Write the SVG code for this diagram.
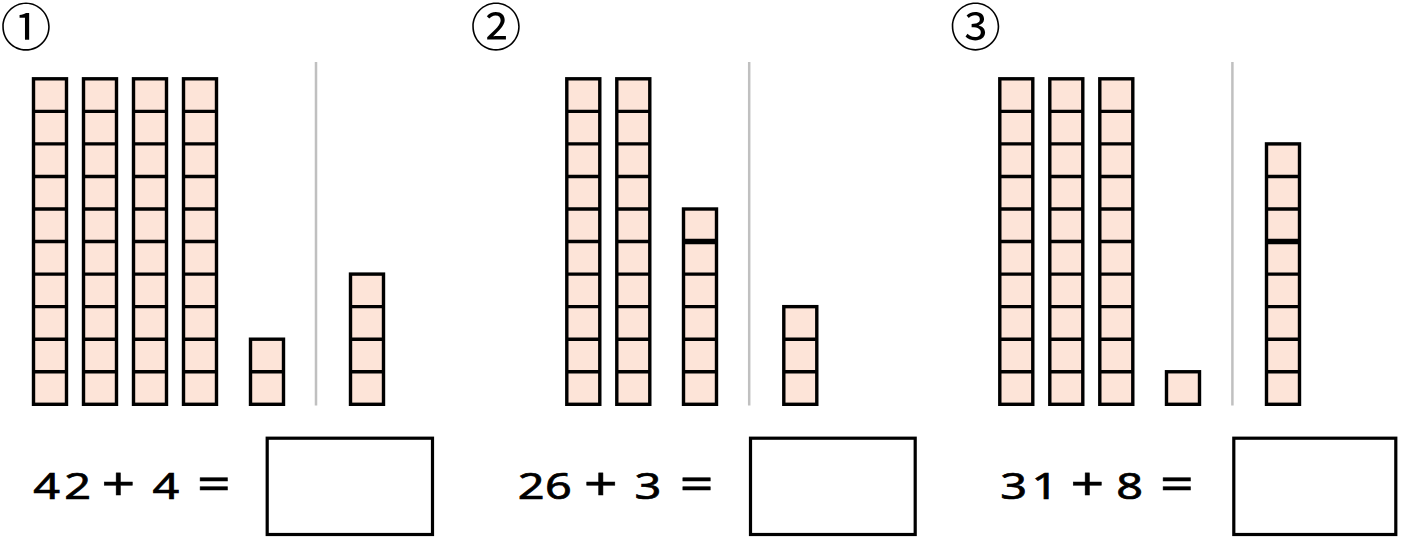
<svg xmlns="http://www.w3.org/2000/svg" xmlns:xlink="http://www.w3.org/1999/xlink" width="1408" height="537" viewBox="0 0 1408 537">
<style>
.cell{fill:#fde4d8;stroke:#000;stroke-width:3.4}
.ln{stroke:#000;stroke-width:3.4;fill:none}
.thick{stroke:#000;stroke-width:5.5;fill:none}
.div{stroke:#c0c0c0;stroke-width:2.5}
.box{fill:#fff;stroke:#000;stroke-width:3.2}
.eq{font-family:"Noto Sans","DejaVu Sans",sans-serif;font-size:36px;fill:#000;stroke:#000;stroke-width:0.7;text-anchor:middle}
.op{font-size:46px;stroke-width:0.4}
.num{font-family:"Noto Sans CJK JP","Noto Sans",sans-serif;font-size:51px;fill:#000;text-anchor:middle}
</style>
<defs>
<g id="ten">
<rect class="cell" x="0" y="0" width="33" height="325.5"/>
<path class="ln" d="M0 32.55h33M0 65.1h33M0 97.65h33M0 130.2h33M0 162.75h33M0 195.3h33M0 227.85h33M0 260.4h33M0 292.95h33"/>
</g>
</defs>

<g id="label1"><text class="num" x="26" y="45.5">①</text></g>
<g id="label2"><text class="num" x="496" y="45.5">②</text></g>
<g id="label3"><text class="num" x="975.5" y="45.5">③</text></g>

<g id="panel1">
<use xlink:href="#ten" x="33.5" y="78.8"/>
<use xlink:href="#ten" x="83.5" y="78.8"/>
<use xlink:href="#ten" x="133.5" y="78.8"/>
<use xlink:href="#ten" x="183.5" y="78.8"/>
<rect class="cell" x="250.5" y="339.2" width="33" height="65.1"/>
<path class="ln" d="M250.5 371.75h33"/>
<line class="div" x1="316" y1="62" x2="316" y2="405.5"/>
<rect class="cell" x="350.5" y="274.1" width="33" height="130.2"/>
<path class="ln" d="M350.5 306.65h33M350.5 339.2h33M350.5 371.75h33"/>
<g class="eq" transform="scale(1.3,1)">
<text x="35.9" y="499">4</text>
<text x="59.8" y="499">2</text>
<text class="op" x="91" y="500">+</text>
<text x="127.7" y="499">4</text>
<text class="op" x="164.6" y="500">=</text>
</g>
<rect class="box" x="267.2" y="438.2" width="165.3" height="96.3"/>
</g>

<g id="panel2">
<use xlink:href="#ten" x="566.8" y="78.8"/>
<use xlink:href="#ten" x="616.8" y="78.8"/>
<rect class="cell" x="683.5" y="209" width="33" height="195.3"/>
<path class="thick" d="M683.5 241.55h33"/>
<path class="ln" d="M683.5 274.1h33M683.5 306.65h33M683.5 339.2h33M683.5 371.75h33"/>
<line class="div" x1="749.2" y1="62" x2="749.2" y2="405.5"/>
<rect class="cell" x="783.8" y="306.65" width="33" height="97.65"/>
<path class="ln" d="M783.8 339.2h33M783.8 371.75h33"/>
<g class="eq" transform="scale(1.3,1)">
<text x="408.6" y="499">2</text>
<text x="429.5" y="499">6</text>
<text class="op" x="462.2" y="500">+</text>
<text x="498.3" y="499">3</text>
<text class="op" x="535.9" y="500">=</text>
</g>
<rect class="box" x="750.5" y="438.2" width="164.7" height="96.3"/>
</g>

<g id="panel3">
<use xlink:href="#ten" x="999.8" y="78.8"/>
<use xlink:href="#ten" x="1049.8" y="78.8"/>
<use xlink:href="#ten" x="1099.8" y="78.8"/>
<rect class="cell" x="1166.5" y="371.75" width="33" height="32.55"/>
<line class="div" x1="1232.4" y1="62" x2="1232.4" y2="405.5"/>
<rect class="cell" x="1266.5" y="143.9" width="33" height="260.4"/>
<path class="ln" d="M1266.5 176.45h33M1266.5 209h33M1266.5 274.1h33M1266.5 306.65h33M1266.5 339.2h33M1266.5 371.75h33"/>
<path class="thick" d="M1266.5 241.55h33"/>
<g class="eq" transform="scale(1.3,1)">
<text x="779.8" y="499">3</text>
<text x="803.8" y="499">1</text>
<text class="op" x="836.5" y="500">+</text>
<text x="869" y="499">8</text>
<text class="op" x="905.2" y="500">=</text>
</g>
<rect class="box" x="1233.8" y="438.2" width="162" height="96.3"/>
</g>
</svg>
